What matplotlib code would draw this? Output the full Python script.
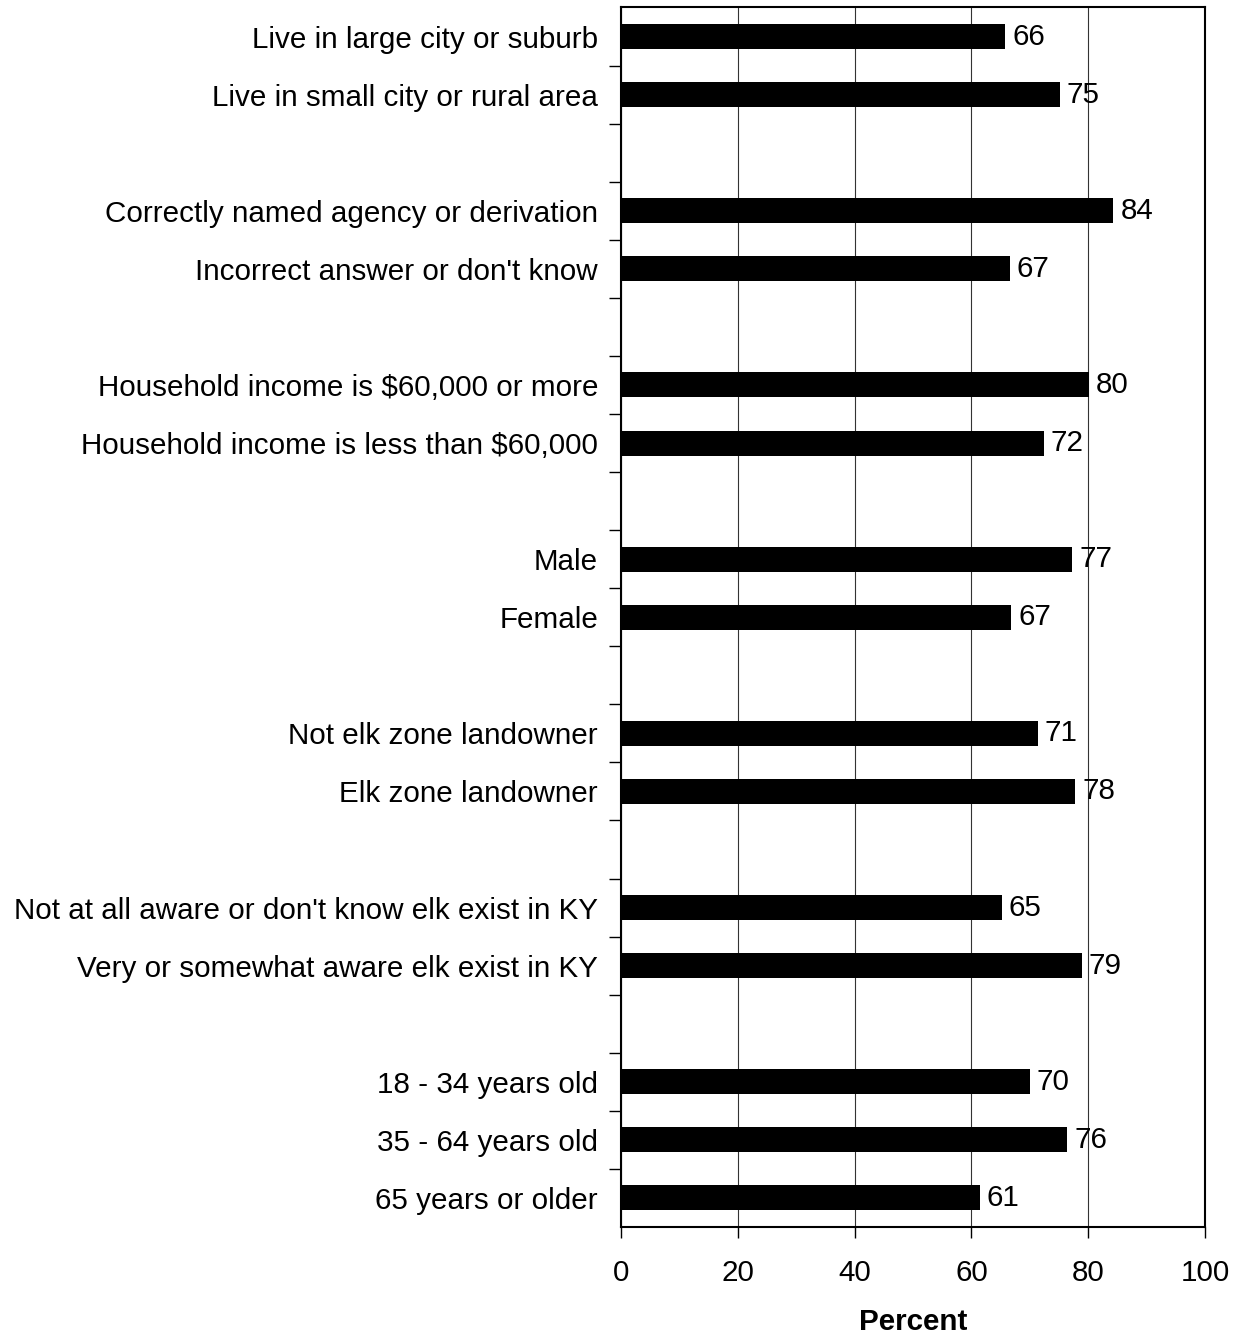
import matplotlib
matplotlib.use("Agg")
import matplotlib.pyplot as plt

# groups of categories, top to bottom; a blank row separates each group
groups = [
    ["Live in large city or suburb", "Live in small city or rural area"],
    ["Correctly named agency or derivation", "Incorrect answer or don't know"],
    ["Household income is $60,000 or more", "Household income is less than $60,000"],
    ["Male", "Female"],
    ["Not elk zone landowner", "Elk zone landowner"],
    ["Not at all aware or don't know elk exist in KY", "Very or somewhat aware elk exist in KY"],
    ["18 - 34 years old", "35 - 64 years old", "65 years or older"],
]
group_values = [
    [65.8, 75.1],
    [84.3, 66.6],
    [80.1, 72.4],
    [77.3, 66.8],
    [71.4, 77.8],
    [65.2, 78.9],
    [70.0, 76.4, 61.4],
]
x_ticks = [0, 20, 40, 60, 80, 100]

plt.rcParams['font.family'] = ['Liberation Sans', 'DejaVu Sans']
FS = 21.3

# slot positions: one row per bar, one empty row between groups
labels, values, pos = [], [], []
row = 0
for gi, (cats, vals) in enumerate(zip(groups, group_values)):
    for c, v in zip(cats, vals):
        labels.append(c)
        values.append(v)
        pos.append(row)
        row += 1
    if gi < len(groups) - 1:
        row += 1
n_rows = row

fig = plt.figure(figsize=(12.41, 13.34), dpi=100)
ax = fig.add_axes([0.5004, 0.0802, 0.4706, 0.9142])

ax.barh(pos, values, height=0.43, color='black', zorder=3)

for p, v in zip(pos, values):
    ax.annotate(f"{v:.0f}", xy=(v, p), xytext=(5, 0), textcoords='offset points',
                va='center', ha='left', fontsize=FS, zorder=4)

ax.set_xlim(0, 100)
ax.set_ylim(n_rows - 0.5, -0.5)

# major y ticks at row boundaries, labels on minor ticks at bar centres
ax.set_yticks([k - 0.5 for k in range(1, n_rows)])
ax.set_yticklabels([])
ax.set_yticks(pos, minor=True)
ax.set_yticklabels(labels, minor=True, fontsize=FS)
ax.tick_params(axis='y', which='minor', length=0, pad=16.5)
ax.tick_params(axis='y', which='major', length=9, width=1, direction='out')

ax.set_xticks(x_ticks)
ax.set_xticklabels([str(t) for t in x_ticks], fontsize=FS)
ax.tick_params(axis='x', length=8, width=1, direction='out', pad=15)

ax.xaxis.grid(True, color='#333333', linewidth=0.8, zorder=0)
ax.set_axisbelow(True)
for s in ax.spines.values():
    s.set_linewidth(1.5)

ax.set_xlabel("Percent", fontsize=FS, fontweight='bold', labelpad=15)

fig.savefig("out.png", dpi=100)
